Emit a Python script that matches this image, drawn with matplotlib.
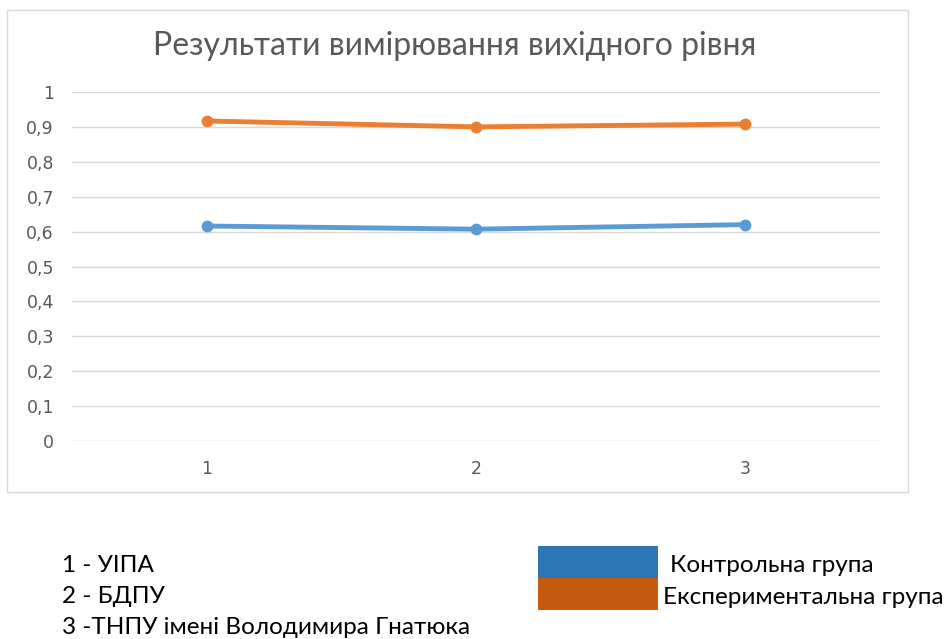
import matplotlib
matplotlib.use("Agg")
import matplotlib.pyplot as plt
from matplotlib.patches import Rectangle
from matplotlib.ticker import FuncFormatter

# data
categories = [1, 2, 3]
control = [0.616, 0.607, 0.620]
experimental = [0.917, 0.900, 0.908]
title = "Результати вимірювання вихідного рівня"
notes = ["1 - УІПА", "2 - БДПУ", "3 -ТНПУ імені Володимира Гнатюка"]
series_names = ["Контрольна група", "Експериментальна група"]

plt.rcParams['font.family'] = ['Lato', 'DejaVu Sans']

fig = plt.figure(figsize=(9.5, 6.39), dpi=100)

# chart frame
fig.add_artist(Rectangle((7 / 950, 147 / 639), 901 / 950, 482 / 639,
                         transform=fig.transFigure, fill=False,
                         edgecolor="#d9d9d9", linewidth=1))

ax = fig.add_axes([72 / 950, 198 / 639, 808 / 950, 349 / 639])
ax.plot(categories, control, color="#5B9BD5", linewidth=3.5,
        marker="o", markersize=7.5, solid_capstyle="round", zorder=3)
ax.plot(categories, experimental, color="#ED7D31", linewidth=3.5,
        marker="o", markersize=7.5, solid_capstyle="round", zorder=3)

ax.set_xlim(0.5, 3.5)
ax.set_ylim(0, 1)
ax.set_xticks(categories)
ax.set_yticks([i / 10 for i in range(11)])
ax.yaxis.set_major_formatter(FuncFormatter(
    lambda v, p: "0" if v == 0 else ("1" if v == 1 else f"{v:.1f}".replace(".", ","))))
ax.grid(axis="y", color="#d9d9d9", linewidth=1)
ax.set_axisbelow(True)
for s in ax.spines.values():
    s.set_visible(False)
ax.tick_params(length=0, labelsize=12.5, labelcolor="#595959",
               labelfontfamily="DejaVu Sans")
ax.tick_params(axis="y", pad=13)
ax.tick_params(axis="x", pad=14)

fig.text(455 / 950, 1 - 46 / 639, title, ha="center", va="center",
         fontsize=23, color="#595959")

# notes below the chart
for i, t in enumerate(notes):
    fig.text(62 / 950, 1 - (565 + 31.5 * i) / 639, t, ha="left", va="center",
             fontsize=17.5, color="black")

# colour legend
patch_colors = ["#2E75B6", "#C55A11"]
for i, (name, c) in enumerate(zip(series_names, patch_colors)):
    y0 = 639 - (578 + 32 * i)
    fig.add_artist(Rectangle((538 / 950, y0 / 639), 120 / 950, 32 / 639,
                             transform=fig.transFigure, facecolor=c,
                             edgecolor="none"))
    fig.text((670 - 7 * i) / 950, 1 - (565 + 32 * i) / 639, name,
             ha="left", va="center", fontsize=17.5, color="black")

fig.savefig("out.png", dpi=100)
